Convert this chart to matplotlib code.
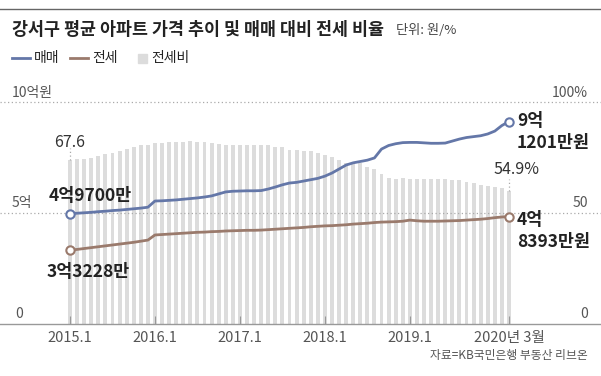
import numpy as np
import matplotlib.pyplot as plt

plt.rcParams['font.family'] = ['Noto Sans CJK KR', 'DejaVu Sans']

# monthly, 2015.1 ~ 2020.3 (63 months)
# 매매 / 전세 average price, unit: 억원
sale = [4.97, 4.99, 5.01, 5.03, 5.06, 5.08, 5.11, 5.13, 5.16, 5.19, 5.22, 5.26,
        5.54, 5.55, 5.57, 5.59, 5.62, 5.65, 5.68, 5.72, 5.77, 5.86, 5.95, 5.98,
        5.99, 6.00, 6.00, 6.01, 6.08, 6.17, 6.27, 6.35, 6.38, 6.44, 6.50, 6.56,
        6.66, 6.80, 6.98, 7.16, 7.26, 7.32, 7.38, 7.48, 7.88, 8.04, 8.12, 8.17,
        8.18, 8.18, 8.16, 8.14, 8.14, 8.15, 8.24, 8.33, 8.40, 8.44, 8.48, 8.56,
        8.69, 8.94, 9.1201]
jeonse = [3.3228, 3.36, 3.40, 3.44, 3.48, 3.52, 3.56, 3.60, 3.64, 3.68, 3.73, 3.78,
          4.01, 4.03, 4.05, 4.07, 4.09, 4.11, 4.13, 4.14, 4.16, 4.17, 4.19, 4.20,
          4.21, 4.22, 4.22, 4.23, 4.25, 4.27, 4.29, 4.31, 4.33, 4.35, 4.38, 4.40,
          4.42, 4.43, 4.45, 4.47, 4.50, 4.52, 4.54, 4.57, 4.59, 4.60, 4.61, 4.63,
          4.68, 4.65, 4.63, 4.63, 4.63, 4.64, 4.65, 4.66, 4.68, 4.70, 4.72, 4.75,
          4.79, 4.82, 4.8393]
# 전세비 (%)
ratio = [67.6, 68.0, 68.2, 68.7, 69.3, 70.1, 70.7, 71.4, 72.2, 73.0, 73.8, 74.0,
         74.7, 74.9, 75.3, 75.3, 75.3, 75.7, 75.3, 75.3, 74.9, 74.4, 74.0, 74.0,
         74.0, 74.0, 74.0, 74.0, 74.0, 73.0, 73.0, 71.9, 71.9, 71.5, 71.3, 70.7,
         69.8, 69.2, 67.8, 66.7, 66.5, 66.4, 65.0, 64.0, 62.0, 60.3, 59.8, 60.5,
         59.9, 59.9, 59.9, 59.9, 59.9, 59.9, 59.7, 59.5, 58.8, 58.1, 57.4, 57.1,
         56.5, 56.1, 54.9]
tick_pos = [0, 12, 24, 36, 48, 62]
tick_labels = ['2015.1', '2016.1', '2017.1', '2018.1', '2019.1', '2020년 3월']

blue = '#6477a8'
brown = '#9a7a6c'
barc = '#dcdcdc'
txt = '#222222'
grey = '#555555'

W, H = 601, 376
fig = plt.figure(figsize=(W / 100, H / 100), dpi=100)


def fx(x):
    return x / W


def fy(y):
    return 1 - y / H


ax_top, ax_bot = 90, 324
ax = fig.add_axes([0, fy(ax_bot), 1, (ax_bot - ax_top) / H])
months = np.arange(len(ratio))
ax.bar(months, ratio, width=0.55, color=barc, zorder=1)
ax.set_xlim(-70 / 7.08, (601 - 70) / 7.08)
ax.set_ylim(0, (ax_bot - ax_top) / 2.42)
for s in ['top', 'left', 'right']:
    ax.spines[s].set_visible(False)
ax.spines['bottom'].set_color('#999999')
ax.spines['bottom'].set_linewidth(1)
ax.set_yticks([])
ax.set_xticks(tick_pos)
ax.set_xticklabels(tick_labels, fontsize=10.5, color=grey)
ax.tick_params(axis='x', direction='in', length=6, color='#999999', pad=5)

ax2 = ax.twinx()
ax2.set_ylim(0, (ax_bot - ax_top) / 22.2)
ax2.set_xlim(ax.get_xlim())
for s in ax2.spines.values():
    s.set_visible(False)
ax2.set_yticks([])
for v in [5, 10]:
    ax2.axhline(v, color='#aaaaaa', lw=0.9, ls=(0, (1, 2)), zorder=2)
ax2.plot(months, sale, color=blue, lw=2, zorder=3, solid_capstyle='round')
ax2.plot(months, jeonse, color=brown, lw=2, zorder=3, solid_capstyle='round')
for series, c in [(sale, blue), (jeonse, brown)]:
    ax2.plot([months[0], months[-1]], [series[0], series[-1]], 'o', ms=6,
             mfc='white', mec=c, mew=1.5, zorder=4)

# dotted pointers to bar labels
ax.plot([0, 0], [ratio[0], ratio[0] + 5], color='#aaaaaa', lw=0.9, ls=(0, (1, 2)))
ax.plot([62, 62], [ratio[-1], ratio[-1] + 5], color='#aaaaaa', lw=0.9, ls=(0, (1, 2)))

# top rule
fig.add_artist(plt.Line2D([0, 1], [fy(9), fy(9)], color='#666666', lw=1))

fig.text(fx(12), fy(30), '강서구 평균 아파트 가격 추이 및 매매 대비 전세 비율',
         fontsize=12.5, fontweight='bold', color=txt, va='center', ha='left')
fig.text(fx(396), fy(31), '단위: 원/%', fontsize=9.5, color='#444444',
         va='center', ha='left')

# legend
ly = fy(58)
fig.add_artist(plt.Line2D([fx(12), fx(30)], [ly, ly], color=blue, lw=2))
fig.text(fx(34), ly, '매매', fontsize=10, color=txt, va='center')
fig.add_artist(plt.Line2D([fx(70), fx(88)], [ly, ly], color=brown, lw=2))
fig.text(fx(92), ly, '전세', fontsize=10, color=txt, va='center')
fig.add_artist(plt.Rectangle((fx(138), fy(63)), fx(9), 9 / H, color=barc))
fig.text(fx(151), ly, '전세비', fontsize=10, color=txt, va='center')

# axis labels
fig.text(fx(12), fy(93), '10억원', fontsize=10, color=grey, va='center')
fig.text(fx(12), fy(203), '5억', fontsize=10, color=grey, va='center')
fig.text(fx(15), fy(314), '0', fontsize=10, color=grey, va='center')
fig.text(fx(588), fy(93), '100%', fontsize=10, color=grey, va='center', ha='right')
fig.text(fx(588), fy(203), '50', fontsize=10, color=grey, va='center', ha='right')
fig.text(fx(588), fy(314), '0', fontsize=10, color=grey, va='center', ha='right')

# value labels
fig.text(fx(70), fy(143), '67.6', fontsize=11.5, color='#333333', va='center', ha='center')
fig.text(fx(517), fy(170), '54.9%', fontsize=11.5, color='#333333', va='center', ha='center')
fig.text(fx(90), fy(196), '4억9700만', fontsize=12.5, fontweight='bold', color=txt,
         va='center', ha='center')
fig.text(fx(88), fy(272), '3억3228만', fontsize=12.5, fontweight='bold', color=txt,
         va='center', ha='center')
fig.text(fx(517), fy(132), '9억\n1201만원', fontsize=12.5, fontweight='bold', color=txt,
         va='center', ha='left', linespacing=1.25)
fig.text(fx(517), fy(231), '4억\n8393만원', fontsize=12.5, fontweight='bold', color=txt,
         va='center', ha='left', linespacing=1.25)

fig.text(fx(588), fy(356), '자료=KB국민은행 부동산 리브온', fontsize=8.5, color=grey,
         va='center', ha='right')

fig.savefig('out.png', dpi=100, facecolor='white')
